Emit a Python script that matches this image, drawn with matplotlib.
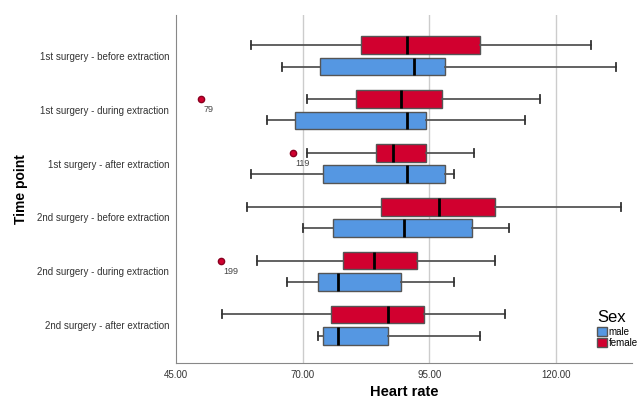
import matplotlib.pyplot as plt
from matplotlib.patches import Patch

plt.rcParams['font.family'] = ['Liberation Sans', 'DejaVu Sans']

# Datos (resumen de cinco numeros por grupo)
time_points = ['1st surgery - before extraction', '1st surgery - during extraction',
               '1st surgery - after extraction', '2nd surgery - before extraction',
               '2nd surgery - during extraction', '2nd surgery - after extraction']

# male
male_low = [65.9, 63.0, 59.9, 70.0, 67.0, 73.0]
male_q1 = [73.5, 68.5, 74.0, 75.9, 73.0, 74.0]
male_med = [92.0, 90.5, 90.5, 90.0, 76.9, 76.9]
male_q3 = [98.0, 94.4, 98.0, 103.5, 89.4, 86.9]
male_high = [131.9, 113.9, 99.9, 110.8, 99.9, 105.0]

# female
female_low = [59.9, 70.9, 70.9, 59.0, 61.0, 54.0]
female_q1 = [81.5, 80.5, 84.5, 85.4, 78.0, 75.5]
female_med = [90.5, 89.4, 87.9, 96.9, 84.0, 86.9]
female_q3 = [105.0, 97.5, 94.4, 107.9, 92.5, 94.0]
female_high = [126.9, 116.9, 103.9, 132.8, 107.9, 110.0]

# outliers (solo female): grupo, valor, caso
out_group = [1, 2, 4]
out_value = [49.9, 68.0, 53.9]
out_case = ['79', '119', '199']

blue = '#5597e2'
red = '#d1002f'

def stats(low, q1, med, q3, high, fliers):
    return [dict(whislo=low[i], q1=q1[i], med=med[i], q3=q3[i], whishi=high[i],
                 fliers=fliers.get(i, [])) for i in range(len(low))]

female_fl = {g: [v] for g, v in zip(out_group, out_value)}

fig = plt.figure(figsize=(6.4, 4.01), dpi=100)
ax = fig.add_axes([0.275, 0.095, 0.7125, 0.868])

pos = list(range(len(time_points)))
off = 0.2
common = dict(vert=False, widths=0.33, patch_artist=True, capwidths=0.15,
              whiskerprops=dict(color='#555555', lw=1.3),
              capprops=dict(color='#333333', lw=1.3),
              medianprops=dict(color='black', lw=2),
              flierprops=dict(marker='o', markerfacecolor=red, markeredgecolor='#8a0020',
                              markersize=4.5))

bm = ax.bxp(stats(male_low, male_q1, male_med, male_q3, male_high, {}),
            positions=[p + off for p in pos], boxprops=dict(facecolor=blue, edgecolor='#555555', lw=1),
            **common)
bf = ax.bxp(stats(female_low, female_q1, female_med, female_q3, female_high, female_fl),
            positions=[p - off for p in pos], boxprops=dict(facecolor=red, edgecolor='#555555', lw=1),
            **common)

for g, v, c in zip(out_group, out_value, out_case):
    ax.text(v + 0.5, g - off + 0.2, c, fontsize=6.5, color='#444444', ha='left', va='center')

ax.set_xlim(45, 135)
ax.set_ylim(5.7, -0.76)
ax.set_yticks(pos)
ax.set_yticklabels(time_points, fontsize=7, color='#333333')
ax.set_xticks([45, 70, 95, 120])
ax.set_xticklabels(['45.00', '70.00', '95.00', '120.00'], fontsize=7, color='#333333')
ax.tick_params(length=0, pad=5)
for x in [70, 95, 120]:
    ax.axvline(x, color='#cccccc', lw=1, zorder=0)
for s in ['top', 'right']:
    ax.spines[s].set_visible(False)
for s in ['left', 'bottom']:
    ax.spines[s].set_color('#888888')

ax.set_ylabel('Time point', fontsize=10, fontweight='bold', labelpad=6)
ax.set_xlabel('Heart rate', fontsize=10.5, fontweight='bold', labelpad=4)

handles = [Patch(facecolor=blue, edgecolor='#555555', label='male'),
           Patch(facecolor=red, edgecolor='#555555', label='female')]
leg = fig.legend(handles=handles, title='Sex', loc='lower left', bbox_to_anchor=(0.925, 0.12),
                 frameon=False, fontsize=7, title_fontsize=12, handlelength=1.0, handleheight=1.0,
                 handletextpad=0.2, labelspacing=0.15, borderpad=0, alignment='left')

plt.savefig('out.png', dpi=100)
